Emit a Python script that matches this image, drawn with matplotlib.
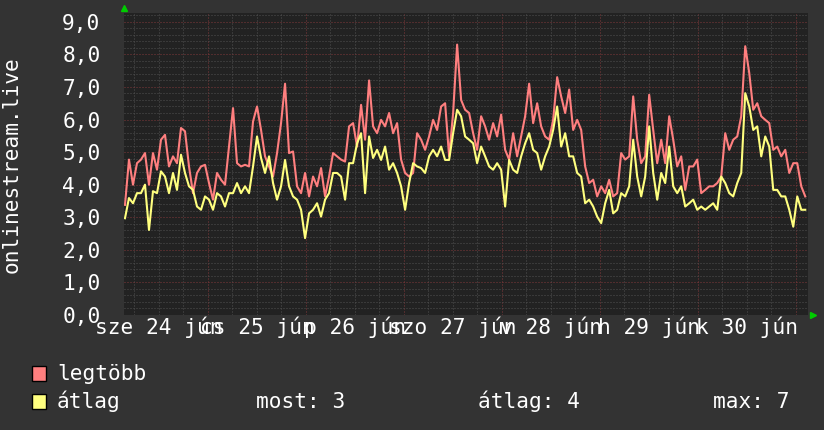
import numpy as np
import matplotlib
matplotlib.use('Agg')
import matplotlib.pyplot as plt
import matplotlib.transforms as mtransforms
from matplotlib.patches import Rectangle

# readings (one per ~hour), 24 Jun ~03:40 -> 1 Jul ~02:30
legtobb = [
    3.38, 4.77, 4.0, 4.66, 4.77, 4.97, 4.0, 4.97, 4.46, 5.38, 5.53, 4.56, 4.87, 4.66, 5.74,
    5.64, 4.56, 3.74, 4.36, 4.56, 4.61, 4.05, 3.54, 4.36, 4.15, 4.0, 5.17, 6.35, 4.66,
    4.56, 4.61, 4.56, 5.94, 6.4, 5.68, 4.87, 4.56, 4.25, 4.97, 5.89, 7.1, 4.97, 5.02,
    3.95, 3.74, 4.36, 3.64, 4.25, 3.95, 4.51, 3.64, 4.25, 4.97, 4.87, 4.77, 4.71, 5.79,
    5.89, 5.17, 6.45, 5.38, 7.2, 5.79, 5.58, 5.99, 5.79, 6.2, 5.58, 5.89, 4.77, 4.36,
    4.25, 4.36, 5.58, 5.38, 5.07, 5.48, 5.99, 5.68, 6.4, 6.5, 4.87, 6.2, 8.3, 6.6, 6.3,
    6.2, 5.58, 5.07, 6.1, 5.79, 5.38, 5.89, 5.48, 6.15, 5.07, 4.77, 5.58, 4.87, 5.48,
    6.1, 7.1, 5.89, 6.5, 5.79, 5.48, 5.38, 5.99, 7.3, 6.71, 6.2, 6.92, 5.68, 5.99,
    5.68, 4.56, 4.05, 4.15, 3.64, 3.95, 3.74, 4.15, 3.64, 3.74, 4.97, 4.77, 4.87, 6.71,
    5.38, 4.66, 4.87, 6.76, 5.68, 4.66, 5.38, 4.66, 6.1, 5.38, 4.56, 4.87, 3.84, 4.56,
    4.56, 4.77, 3.74, 3.84, 3.95, 3.95, 4.05, 4.25, 5.58, 5.07, 5.38, 5.48, 6.1, 8.25,
    7.43, 6.3, 6.5, 6.1, 5.99, 5.89, 5.07, 5.17, 4.87, 5.07, 4.36, 4.66, 4.66, 3.95, 3.64,
]
atlag = [
    2.97, 3.59, 3.43, 3.74, 3.74, 4.0, 2.61, 3.8, 3.74, 4.41, 4.25, 3.74, 4.36, 3.84, 4.92,
    4.36, 3.95, 3.84, 3.33, 3.23, 3.64, 3.54, 3.23, 3.74, 3.64, 3.33, 3.74, 3.74, 4.05,
    3.74, 3.95, 3.74, 4.56, 5.48, 4.82, 4.36, 4.87, 4.05, 3.54, 3.95, 4.76, 3.95, 3.64,
    3.54, 3.23, 2.36, 3.12, 3.23, 3.43, 3.02, 3.54, 3.74, 4.36, 4.36, 4.25, 3.54, 4.66,
    4.66, 5.27, 5.58, 3.74, 5.48, 4.82, 5.07, 4.76, 5.17, 4.46, 4.66, 4.36, 3.95, 3.23,
    4.05, 4.66, 4.56, 4.51, 4.36, 4.87, 5.07, 4.87, 5.17, 4.76, 4.76, 5.58, 6.3, 6.1, 5.48,
    5.38, 5.27, 4.66, 5.17, 4.87, 4.56, 4.46, 4.66, 4.46, 3.33, 4.76, 4.46, 4.36, 4.87,
    5.27, 5.58, 5.07, 4.97, 4.46, 4.87, 5.17, 5.68, 6.4, 5.17, 5.58, 4.87, 4.87, 4.36,
    4.25, 3.43, 3.54, 3.33, 3.02, 2.82, 3.43, 3.84, 3.12, 3.23, 3.74, 3.64, 3.95, 5.38,
    4.25, 3.64, 4.25, 5.79, 4.36, 3.54, 4.36, 4.05, 5.17, 3.95, 3.74, 3.95, 3.33, 3.43,
    3.54, 3.23, 3.33, 3.23, 3.33, 3.43, 3.23, 4.25, 4.05, 3.74, 3.64, 4.05, 4.36, 6.81,
    6.4, 5.68, 5.79, 4.87, 5.48, 5.17, 3.84, 3.84, 3.64, 3.64, 3.23, 2.71, 3.64, 3.23, 3.23,
]
day_labels = ['sze 24 jún', 'cs 25 jún', 'p 26 jún', 'szo 27 jún',
              'v 28 jún', 'h 29 jún', 'k 30 jún']
ytick_labels = ['0,0', '1,0', '2,0', '3,0', '4,0', '5,0', '6,0', '7,0', '8,0', '9,0']

# time in hours since 24 Jun 00:00
start_h = 3.67
step_h = 0.98
hours = start_h + step_h * np.arange(len(legtobb))

mono = 'DejaVu Sans Mono'
fs = 15.2
bg = '#333333'

fig = plt.figure(figsize=(8.24, 4.30), dpi=100, facecolor=bg)
ax = fig.add_axes([124 / 824, 115 / 430, 684 / 824, 302 / 430])
ax.set_facecolor('#222222')

ax.plot(hours, legtobb, color='#ff7f7f', lw=1.5, zorder=3)
ax.plot(hours, atlag, color='#ffff7f', lw=1.5, zorder=4)

ax.set_xlim(3.43, 170.94)
ax.set_ylim(0, 9.27)

ax.set_xticks(np.arange(24, 170, 24))
ax.set_xticks(np.arange(6, 171, 6), minor=True)
ax.set_yticks(np.arange(10))
ax.set_yticks(np.arange(0, 9.3, 0.2), minor=True)
ax.set_xticklabels([])
ax.set_yticklabels(ytick_labels, family=mono, fontsize=fs, color='white')
ax.tick_params(which='both', length=0)
ax.tick_params(axis='y', pad=17)

dots = (0, (1, 2))
ax.grid(which='minor', color='#505050', lw=0.72, linestyle=dots, zorder=1)
ax.grid(which='major', color='#80383a', lw=0.72, linestyle=dots, zorder=2)
ax.set_axisbelow(True)
for s in ax.spines.values():
    s.set_visible(False)

# day labels centred at noon
trans = mtransforms.blended_transform_factory(ax.transData, ax.transAxes)
for i, lab in enumerate(day_labels):
    ax.text(12 + 24 * i, -18.5 / 302, lab, transform=trans, ha='center',
            va='baseline', family=mono, fontsize=fs, color='white')

# axis arrows
ax.plot(0, 1.015, marker='^', color='#00cc00', ms=4, transform=ax.transAxes, clip_on=False)
ax.plot(1.008, 0, marker='>', color='#00cc00', ms=4, transform=ax.transAxes, clip_on=False)

fig.text(12 / 824, 1 - 165 / 430, 'onlinestream.live', rotation=90, ha='center',
         va='center', family=mono, fontsize=fs, color='white')

# legend
fig.add_artist(Rectangle((32 / 824, 1 - 381 / 430), 14 / 824, 15 / 430,
                         transform=fig.transFigure, fc='#ff7f7f', ec='black', lw=1))
fig.add_artist(Rectangle((32 / 824, 1 - 409 / 430), 14 / 824, 15 / 430,
                         transform=fig.transFigure, fc='#ffff7f', ec='black', lw=1))
txt = dict(family=mono, fontsize=fs, color='white', va='baseline')
fig.text(57 / 824, 1 - 380.5 / 430, 'legtöbb', **txt)
fig.text(57 / 824, 1 - 408 / 430, 'átlag', **txt)
fig.text(256 / 824, 1 - 408 / 430, 'most: %.0f' % atlag[-1], **txt)
fig.text(478 / 824, 1 - 408 / 430, 'átlag: %.0f' % np.mean(atlag), **txt)
fig.text(713 / 824, 1 - 408 / 430, 'max: %.0f' % np.max(atlag), **txt)

fig.savefig('out.png', dpi=100, facecolor=bg)
